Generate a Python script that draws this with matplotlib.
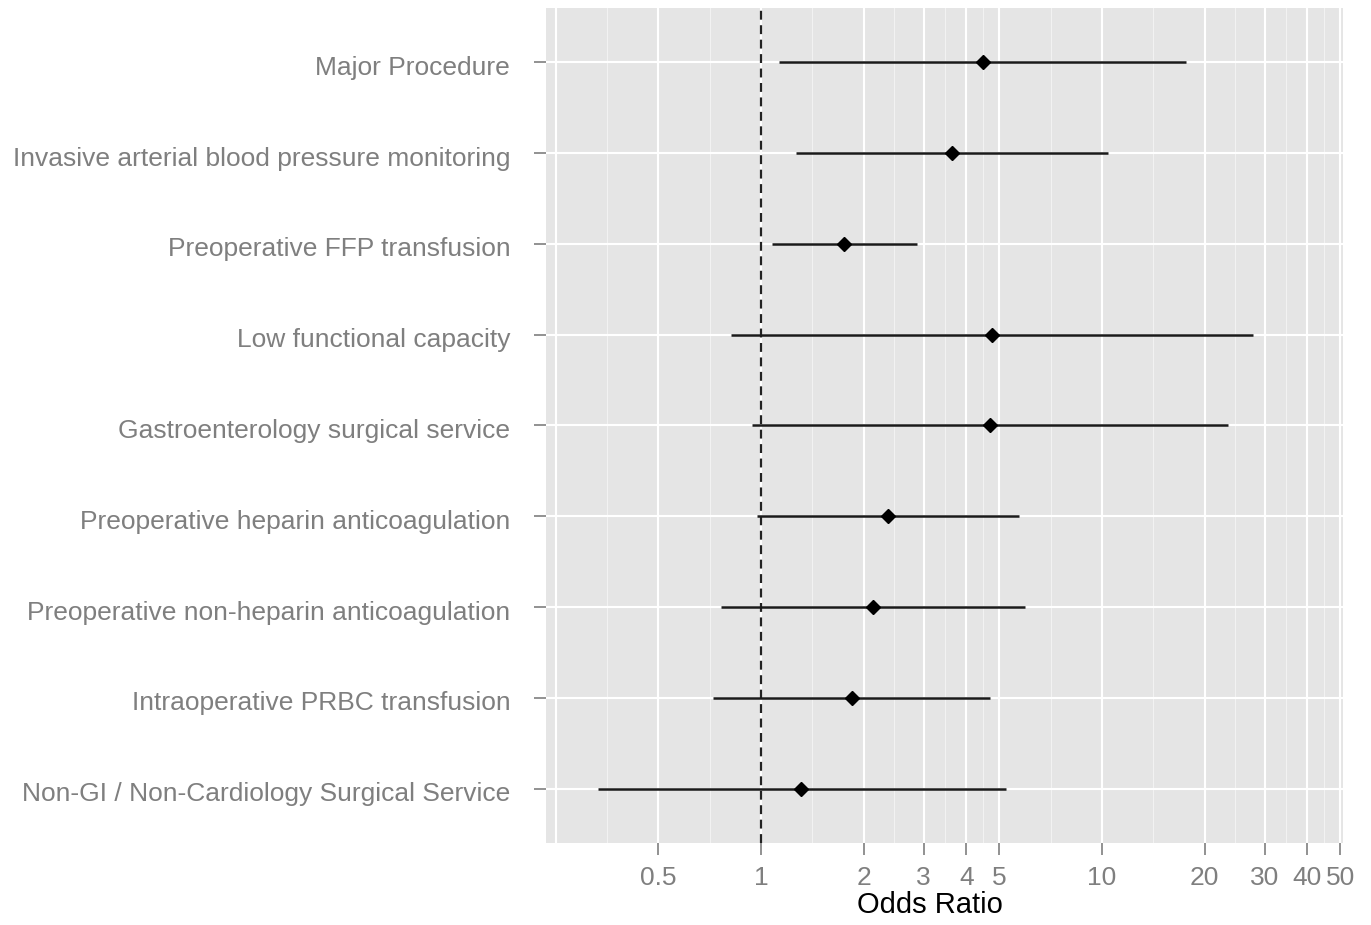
import numpy as np
import matplotlib
matplotlib.use('Agg')
import matplotlib.pyplot as plt
from matplotlib.ticker import FixedLocator, NullFormatter
from matplotlib.transforms import ScaledTranslation

# Data
# ----------------------------------------------------------------------------

labels = [
    'Major Procedure',
    'Invasive arterial blood pressure monitoring',
    'Preoperative FFP transfusion',
    'Low functional capacity',
    'Gastroenterology surgical service',
    'Preoperative heparin anticoagulation',
    'Preoperative non-heparin anticoagulation',
    'Intraoperative PRBC transfusion',
    'Non-GI / Non-Cardiology Surgical Service',
]
odds_ratio = [4.48, 3.63, 1.75, 4.76, 4.69, 2.36, 2.13, 1.85, 1.31]
ci_low = [1.13, 1.27, 1.08, 0.817, 0.941, 0.973, 0.763, 0.723, 0.333]
ci_high = [17.6, 10.4, 2.87, 27.7, 23.4, 5.71, 5.94, 4.69, 5.23]

major_breaks = [0.5, 1, 2, 3, 4, 5, 10, 20, 30, 40, 50]
tick_labels = ['0.5', '1', '2', '3', '4', '5', '10', '20', '30', '40', '50']

# Plot
# ----------------------------------------------------------------------------

plt.rcParams['font.family'] = ['Liberation Sans', 'DejaVu Sans']

fig = plt.figure(figsize=(13.71, 9.25), dpi=100)
ax = fig.add_axes([0.398, 0.0886, 0.5815, 0.9028])
ax.set_facecolor('#E5E5E5')

ypos = np.arange(len(labels))

# ggplot-ish grid: majors plus minors halfway (in log space)
grid_majors = [0.25] + major_breaks
grid_minors = [np.sqrt(a * b) for a, b in zip(grid_majors[:-1], grid_majors[1:])]
for g in grid_majors:
    ax.axvline(g, color='white', lw=1.5, zorder=0)
for g in grid_minors:
    ax.axvline(g, color='#F2F2F2', lw=0.8, zorder=0)
for y in ypos:
    ax.axhline(y, color='white', lw=1.5, zorder=0)

ax.axvline(1, color='#222222', lw=1.6, ls=(0, (4, 2.5)), zorder=1)

ax.hlines(ypos, ci_low, ci_high, color='#1a1a1a', lw=1.8, zorder=2)
ax.plot(odds_ratio, ypos, 'D', color='black', ms=7.5, zorder=3)

ax.set_xscale('log')
ax.set_xlim(0.2338, 50.9)
ax.set_ylim(len(labels) - 0.4, -0.6)

ax.xaxis.set_major_locator(FixedLocator(major_breaks))
ax.set_xticklabels(tick_labels)
ax.xaxis.set_minor_formatter(NullFormatter())
ax.xaxis.set_minor_locator(FixedLocator([]))
ax.set_yticks(ypos)
ax.set_yticklabels(labels)

ax.tick_params(axis='both', colors='#7F7F7F', labelcolor='#7F7F7F',
               labelsize=19, length=8.5, width=1.2)
ax.tick_params(axis='y', pad=17)
ax.tick_params(axis='x', pad=8)

# labels sit a touch below the row centre in the original
shift = ScaledTranslation(0, -3 / 100, fig.dpi_scale_trans)
for lab in ax.get_yticklabels():
    lab.set_transform(lab.get_transform() + shift)

ax.set_xlabel('Odds Ratio', fontsize=21, color='black', labelpad=4)
ax.xaxis.set_label_coords(0.482, -0.058)

for s in ax.spines.values():
    s.set_visible(False)

fig.savefig('out.png', dpi=100)
